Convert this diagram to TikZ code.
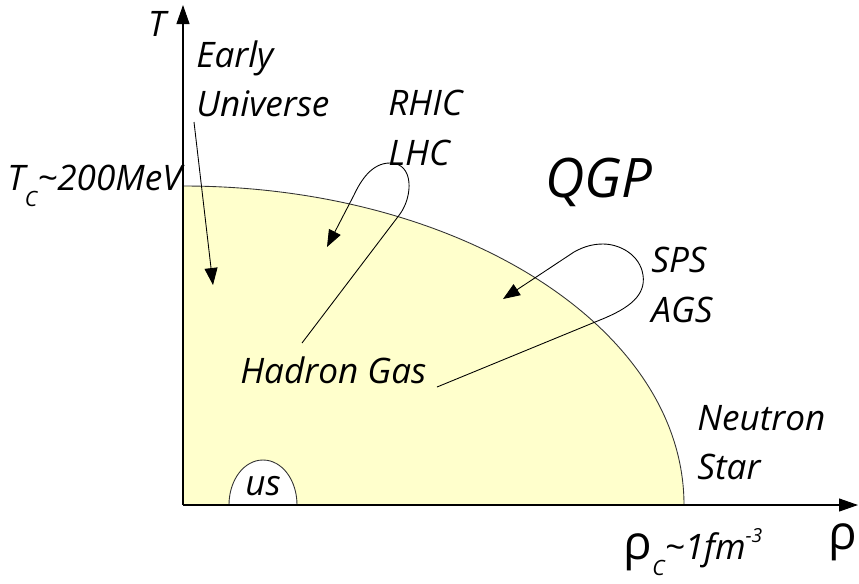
\documentclass[tikz,border=0pt]{standalone}
\usepackage{fontspec}
\setmainfont{Open Sans}
\usetikzlibrary{arrows.meta,positioning}
\definecolor{hadronfill}{HTML}{FFFFCC}
\newcommand{\bigrho}{{\upshape\fontsize{27}{27}\selectfont ρ}}

\begin{document}
\begin{tikzpicture}[x=0.02cm, y=-0.02cm,
    lbl/.style={font=\itshape\fontsize{20}{28}\selectfont, align=left, inner sep=0pt},
    axis/.style={line width=0.6pt, -{Triangle[length=0.38cm, width=0.26cm]}},
    guide/.style={line width=0.5pt, -{Triangle[length=0.34cm, width=0.26cm]}}]
    \useasboundingbox (0,0) rectangle (859,583);
    % hadron gas region
    \fill[hadronfill] (183,505) -- (183,186) .. controls (460,186) and (684,328) .. (684,505) -- cycle;
    \draw[line width=0.5pt, black!80] (183,186) .. controls (460,186) and (684,328) .. (684,505);
    \filldraw[fill=white, draw=black!80, line width=0.5pt] (229,505) .. controls (229,480) and (244,460) .. (263,460)
        .. controls (282,460) and (297,480) .. (297,505);
    % axes
    \coordinate (origin) at (183,505);
    \coordinate (ttop) at (183,5);
    \coordinate (rhoend) at (858,505);
    \draw[axis] (origin) -- (ttop);
    \draw[axis] (origin) -- (rhoend);
    % labels
    \node (tlab) [lbl] at (157,24) {T};
    \node (tc) [lbl, anchor=east] at (182,186) {T\raisebox{-9pt}{\fontsize{12}{12}\selectfont C}\textasciitilde200MeV};
    \node (early) [lbl, anchor=west] at (196,79) {Early\\Universe};
    \node (rhic) [lbl, anchor=west] at (388,128) {RHIC\\LHC};
    \node (qgp) [lbl, font=\itshape\fontsize{31}{31}\selectfont] at (599,182) {QGP};
    \node (sps) [lbl, anchor=west] at (651,285) {SPS\\AGS};
    \node (hadron) [lbl, anchor=west] at (240,370) {Hadron Gas};
    \node (neutron) [lbl, anchor=west] at (697,443) {Neutron\\Star};
    \node (us) [lbl] at (263,486) {us};
    \node (rhoc) [lbl] at (693,552) {\bigrho\raisebox{-9pt}{\fontsize{12}{12}\selectfont C}\textasciitilde1fm\raisebox{10pt}{\fontsize{11}{11}\selectfont -3}};
    \node (rholab) [lbl, anchor=west] at (828,542) {\bigrho};
    % guides
    \coordinate (eustart) at (194,122);
    \coordinate (eutip) at (213,285);
    \draw[guide] (eustart) -- (eutip);
    \coordinate (rhicfoot) at (302,343);
    \coordinate (rhictip) at (327,247);
    \draw[guide] (rhicfoot) -- (400,214) .. controls (413,196) and (414,163) .. (390,163)
        .. controls (372,163) and (361,180) .. (354,195) -- (rhictip);
    \coordinate (spsfoot) at (437,387);
    \coordinate (spstip) at (503,299);
    \draw[guide] (spsfoot) -- (600,320) .. controls (630,308) and (646,295) .. (643,275)
        .. controls (640,255) and (620,244) .. (603,244) .. controls (592,244) and (583,247) .. (574,252) -- (spstip);
\end{tikzpicture}
\end{document}
